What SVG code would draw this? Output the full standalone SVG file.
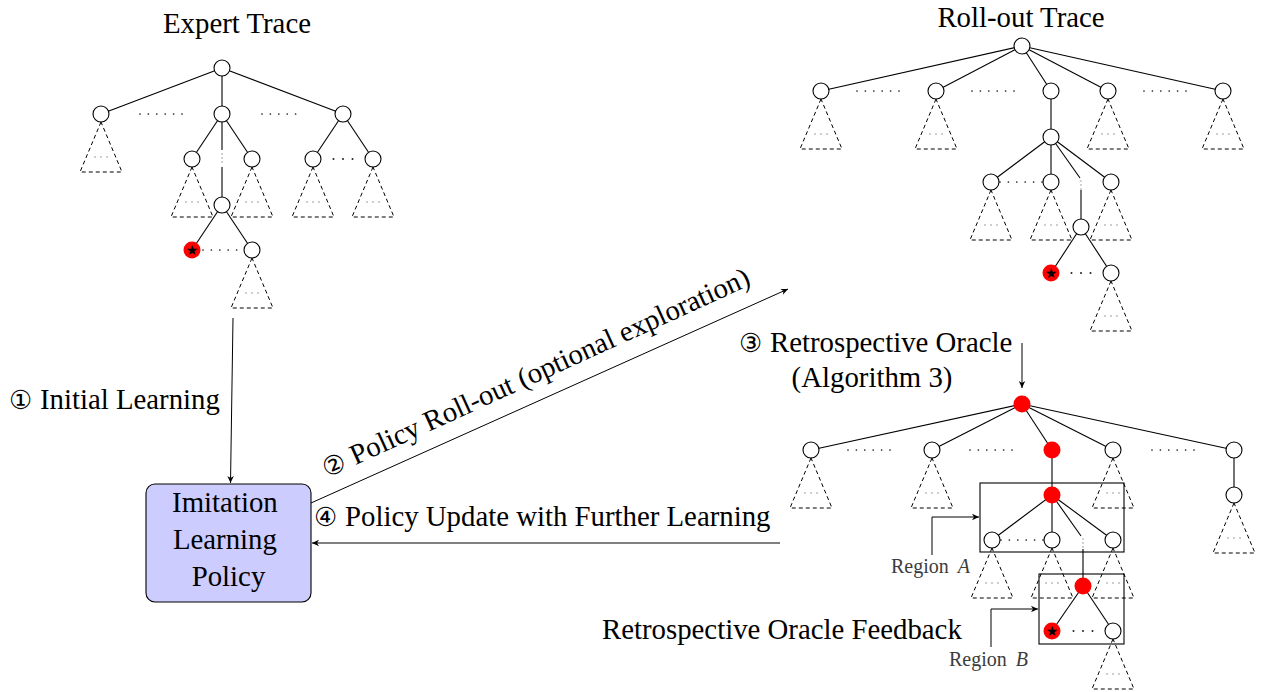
<svg xmlns="http://www.w3.org/2000/svg" xmlns:xlink="http://www.w3.org/1999/xlink" width="1266" height="692" viewBox="0 0 1266 692">
  <style>
    .lbl { font-family: "Liberation Serif", "DejaVu Serif", serif; font-size: 28.8px; fill: #000; }
    .num { font-family: "DejaVu Sans", "Noto Sans", sans-serif; font-size: 26px; fill: #000; }
    .reg { font-family: "Liberation Serif", "DejaVu Serif", serif; font-size: 20px; fill: #3c3c3c; }
    .reg tspan.m { font-style: italic; }
    .edge { stroke: #000; stroke-width: 1.1; fill: none; }
    .conn { stroke: #000; stroke-width: 1; fill: none; }
    .dots { stroke: #222; stroke-width: 1.7; stroke-linecap: round; stroke-dasharray: 0 8.4; fill: none; }
    .nd { fill: #fff; stroke: #000; stroke-width: 1.1; }
    .hit { fill: #ff0000; stroke: none; }
    .star { font-family: "DejaVu Sans", sans-serif; font-size: 14px; fill: #000; text-anchor: middle; }
    .vd { fill: #999; }
    .cd { fill: #222; }
    .box { fill: none; stroke: #000; stroke-width: 1.1; }
  </style>
  <defs>
    <!-- dashed subtree placeholder hanging under a node at (0,0) -->
    <g id="tri">
      <path d="M0,8 L-21,58 L21,58 Z" fill="none" stroke="#000" stroke-width="1" stroke-dasharray="4 3"/>
      <circle cx="-6" cy="43" r="0.7" fill="#777"/>
      <circle cx="0" cy="43" r="0.7" fill="#777"/>
      <circle cx="6" cy="43" r="0.7" fill="#777"/>
    </g>
    <!-- vertical ellipsis on an edge -->
    <g id="vdots">
      <circle cx="0" cy="0" r="0.8" class="vd"/>
      <circle cx="0" cy="4" r="0.8" class="vd"/>
      <circle cx="0" cy="8" r="0.8" class="vd"/>
    </g>
    <!-- centred horizontal ellipsis -->
    <g id="cdots">
      <circle cx="-9.5" cy="0" r="1" class="cd"/>
      <circle cx="0" cy="0" r="1" class="cd"/>
      <circle cx="9.5" cy="0" r="1" class="cd"/>
    </g>
    <marker id="arr" viewBox="-8 -4 9 8" refX="0" refY="0" markerWidth="9" markerHeight="8" markerUnits="userSpaceOnUse" orient="auto">
      <path d="M0,0 L-7,-3.2 L-5,0 L-7,3.2 Z" fill="#000"/>
    </marker>
  </defs>

  <rect width="1266" height="692" fill="#fff"/>

  <!-- ============ Expert trace ============ -->
  <g id="expert-trace">
    <text class="lbl" x="237" y="33" text-anchor="middle">Expert Trace</text>
    <g class="edge">
      <line x1="222" y1="68" x2="101" y2="114"/>
      <line x1="222" y1="68" x2="222" y2="114"/>
      <line x1="222" y1="68" x2="343" y2="114"/>
      <line x1="222" y1="114" x2="192" y2="159"/>
      <line x1="222" y1="114" x2="252" y2="159"/>
      <line x1="222" y1="114" x2="222" y2="150"/>
      <line x1="222" y1="167" x2="222" y2="205"/>
      <line x1="343" y1="114" x2="313" y2="159"/>
      <line x1="343" y1="114" x2="373" y2="159"/>
      <line x1="222" y1="205" x2="192" y2="250"/>
      <line x1="222" y1="205" x2="252" y2="250"/>
    </g>
    <use xlink:href="#vdots" x="222" y="154"/>
    <line class="dots" x1="140" y1="114" x2="182" y2="114"/>
    <line class="dots" x1="262" y1="114" x2="303" y2="114"/>
    <line class="dots" x1="203" y1="250" x2="243" y2="250"/>
    <use xlink:href="#cdots" x="343" y="159"/>
    <use xlink:href="#tri" x="101" y="114"/>
    <use xlink:href="#tri" x="192" y="159"/>
    <use xlink:href="#tri" x="252" y="159"/>
    <use xlink:href="#tri" x="313" y="159"/>
    <use xlink:href="#tri" x="373" y="159"/>
    <use xlink:href="#tri" x="252" y="250"/>
    <circle id="e-root" class="nd" cx="222" cy="68" r="8"/>
    <circle id="e-a1" class="nd" cx="101" cy="114" r="8"/>
    <circle id="e-a2" class="nd" cx="222" cy="114" r="8"/>
    <circle id="e-a3" class="nd" cx="343" cy="114" r="8"/>
    <circle id="e-b1" class="nd" cx="192" cy="159" r="8"/>
    <circle id="e-b2" class="nd" cx="252" cy="159" r="8"/>
    <circle id="e-b3" class="nd" cx="313" cy="159" r="8"/>
    <circle id="e-b4" class="nd" cx="373" cy="159" r="8"/>
    <circle id="e-c" class="nd" cx="222" cy="205" r="8"/>
    <circle id="e-goal" class="hit" cx="192" cy="250" r="8.5"/>
    <text class="star" x="192" y="255">★</text>
    <circle id="e-d2" class="nd" cx="252" cy="250" r="8"/>
  </g>

  <!-- ============ Roll-out trace ============ -->
  <g id="rollout-trace">
    <text class="lbl" x="1021" y="27" text-anchor="middle">Roll-out Trace</text>
    <g class="edge">
      <line x1="1022" y1="46" x2="821" y2="91"/>
      <line x1="1022" y1="46" x2="936" y2="91"/>
      <line x1="1022" y1="46" x2="1051" y2="91"/>
      <line x1="1022" y1="46" x2="1108" y2="91"/>
      <line x1="1022" y1="46" x2="1223" y2="91"/>
      <line x1="1051" y1="91" x2="1051" y2="137"/>
      <line x1="1051" y1="137" x2="991" y2="182"/>
      <line x1="1051" y1="137" x2="1051" y2="182"/>
      <line x1="1051" y1="137" x2="1111" y2="182"/>
      <line x1="1051" y1="137" x2="1080" y2="178"/>
      <line x1="1081" y1="190" x2="1081" y2="227"/>
      <line x1="1081" y1="227" x2="1051" y2="273"/>
      <line x1="1081" y1="227" x2="1111" y2="273"/>
    </g>
    <use xlink:href="#vdots" x="1081" y="181"/>
    <line class="dots" x1="857" y1="91" x2="900" y2="91"/>
    <line class="dots" x1="972" y1="91" x2="1015" y2="91"/>
    <line class="dots" x1="1144" y1="91" x2="1187" y2="91"/>
    <line class="dots" x1="1000" y1="182" x2="1043" y2="182"/>
    <use xlink:href="#cdots" x="1081" y="273"/>
    <use xlink:href="#tri" x="821" y="91"/>
    <use xlink:href="#tri" x="936" y="91"/>
    <use xlink:href="#tri" x="1108" y="91"/>
    <use xlink:href="#tri" x="1223" y="91"/>
    <use xlink:href="#tri" x="991" y="182"/>
    <use xlink:href="#tri" x="1051" y="182"/>
    <use xlink:href="#tri" x="1111" y="182"/>
    <use xlink:href="#tri" x="1111" y="273"/>
    <circle id="r-root" class="nd" cx="1022" cy="46" r="8"/>
    <circle id="r-p1" class="nd" cx="821" cy="91" r="8"/>
    <circle id="r-p2" class="nd" cx="936" cy="91" r="8"/>
    <circle id="r-p3" class="nd" cx="1051" cy="91" r="8"/>
    <circle id="r-p4" class="nd" cx="1108" cy="91" r="8"/>
    <circle id="r-p5" class="nd" cx="1223" cy="91" r="8"/>
    <circle id="r-n" class="nd" cx="1051" cy="137" r="8"/>
    <circle id="r-q1" class="nd" cx="991" cy="182" r="8"/>
    <circle id="r-q2" class="nd" cx="1051" cy="182" r="8"/>
    <circle id="r-q4" class="nd" cx="1111" cy="182" r="8"/>
    <circle id="r-m" class="nd" cx="1081" cy="227" r="8"/>
    <circle id="r-goal" class="hit" cx="1051" cy="273" r="8.5"/>
    <text class="star" x="1051" y="278">★</text>
    <circle id="r-s2" class="nd" cx="1111" cy="273" r="8"/>
  </g>

  <!-- ============ Oracle-annotated trace ============ -->
  <g id="oracle-trace">
    <g class="edge">
      <line x1="1022" y1="404" x2="811" y2="450"/>
      <line x1="1022" y1="404" x2="932" y2="450"/>
      <line x1="1022" y1="404" x2="1052" y2="450"/>
      <line x1="1022" y1="404" x2="1113" y2="450"/>
      <line x1="1022" y1="404" x2="1234" y2="450"/>
      <line x1="1052" y1="450" x2="1052" y2="495"/>
      <line x1="1234" y1="450" x2="1234" y2="495"/>
      <line x1="1052" y1="495" x2="992" y2="540"/>
      <line x1="1052" y1="495" x2="1052" y2="540"/>
      <line x1="1052" y1="495" x2="1113" y2="540"/>
      <line x1="1052" y1="495" x2="1081" y2="536"/>
      <line x1="1083" y1="549" x2="1083" y2="586"/>
      <line x1="1083" y1="586" x2="1052" y2="631"/>
      <line x1="1083" y1="586" x2="1113" y2="631"/>
    </g>
    <use xlink:href="#vdots" x="1083" y="539"/>
    <line class="dots" x1="848" y1="450" x2="893" y2="450"/>
    <line class="dots" x1="970" y1="450" x2="1013" y2="450"/>
    <line class="dots" x1="1152" y1="450" x2="1195" y2="450"/>
    <line class="dots" x1="1001" y1="540" x2="1044" y2="540"/>
    <use xlink:href="#cdots" x="1083" y="631"/>
    <use xlink:href="#tri" x="811" y="450"/>
    <use xlink:href="#tri" x="932" y="450"/>
    <use xlink:href="#tri" x="1113" y="450"/>
    <use xlink:href="#tri" x="1234" y="495"/>
    <use xlink:href="#tri" x="992" y="540"/>
    <use xlink:href="#tri" x="1052" y="540"/>
    <use xlink:href="#tri" x="1113" y="540"/>
    <use xlink:href="#tri" x="1113" y="631"/>
    <circle id="o-root" class="hit" cx="1022" cy="404" r="8.5"/>
    <circle id="o-u1" class="nd" cx="811" cy="450" r="8"/>
    <circle id="o-u2" class="nd" cx="932" cy="450" r="8"/>
    <circle id="o-u3" class="hit" cx="1052" cy="450" r="8.5"/>
    <circle id="o-u4" class="nd" cx="1113" cy="450" r="8"/>
    <circle id="o-u5" class="nd" cx="1234" cy="450" r="8"/>
    <circle id="o-w" class="nd" cx="1234" cy="495" r="8"/>
    <circle id="o-v" class="hit" cx="1052" cy="495" r="8.5"/>
    <circle id="o-x1" class="nd" cx="992" cy="540" r="8"/>
    <circle id="o-x2" class="nd" cx="1052" cy="540" r="8"/>
    <circle id="o-x4" class="nd" cx="1113" cy="540" r="8"/>
    <circle id="o-y" class="hit" cx="1083" cy="586" r="8.5"/>
    <circle id="o-goal" class="hit" cx="1052" cy="631" r="8.5"/>
    <text class="star" x="1052" y="636">★</text>
    <circle id="o-z2" class="nd" cx="1113" cy="631" r="8"/>
  </g>

  <!-- region frames and their labels -->
  <g id="region-a">
    <rect class="box" x="980" y="483" width="144" height="69"/>
    <polyline class="conn" points="932,555 932,517 979,517" marker-end="url(#arr)"/>
    <text class="reg" x="891" y="573">Region <tspan class="m" dx="4">A</tspan></text>
  </g>
  <g id="region-b">
    <rect class="box" x="1039" y="574" width="85" height="70"/>
    <polyline class="conn" points="991,647 991,609 1038,609" marker-end="url(#arr)"/>
    <text class="reg" x="949" y="666">Region <tspan class="m" dx="4">B</tspan></text>
  </g>

  <!-- ============ Policy ============ -->
  <g id="policy">
    <rect x="146" y="484" width="165" height="118" rx="9" ry="9" fill="#ccccff" stroke="#000" stroke-width="1.1"/>
    <text class="lbl" text-anchor="middle">
      <tspan x="228.5" y="512">Imitation</tspan>
      <tspan x="228.5" y="549">Learning</tspan>
      <tspan x="228.5" y="586">Policy</tspan>
    </text>
  </g>

  <!-- ============ Connectors ============ -->
  <g id="connectors">
    <line class="conn" x1="233" y1="318" x2="230.5" y2="483" marker-end="url(#arr)"/>
    <line class="conn" x1="311" y1="503" x2="788" y2="289" marker-end="url(#arr)"/>
    <line class="conn" x1="780" y1="543" x2="312" y2="543" marker-end="url(#arr)"/>
    <line class="conn" x1="1022" y1="343" x2="1022" y2="388" marker-end="url(#arr)"/>
  </g>

  <!-- ============ Step labels ============ -->
  <g id="step-labels">
    <text class="lbl" y="409"><tspan class="num" x="9">①</tspan><tspan x="40">Initial Learning</tspan></text>
    <g transform="translate(327,478) rotate(-24.5)">
      <text class="lbl"><tspan class="num" x="0">②</tspan><tspan x="31">Policy Roll-out (optional exploration)</tspan></text>
    </g>
    <text class="lbl" y="352"><tspan class="num" x="739">③</tspan><tspan x="770">Retrospective Oracle</tspan></text>
    <text class="lbl" x="872" y="387" text-anchor="middle">(Algorithm 3)</text>
    <text class="lbl" y="526"><tspan class="num" x="314">④</tspan><tspan x="345">Policy Update with Further Learning</tspan></text>
    <text class="lbl" x="602" y="639">Retrospective Oracle Feedback</text>
  </g>
</svg>
